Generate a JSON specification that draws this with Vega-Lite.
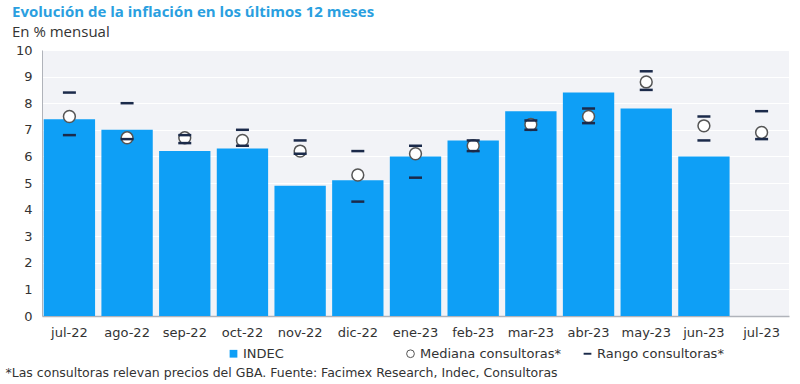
{
  "$schema": "https://vega.github.io/schema/vega-lite/v6.json",
  "width": 747,
  "height": 266,
  "padding": {"left": 5, "top": 5, "right": 5, "bottom": 2},
  "background": "white",
  "title": {
    "text": "Evolución de la inflación en los últimos 12 meses",
    "subtitle": "En % mensual",
    "anchor": "start",
    "frame": "group",
    "dx": -30,
    "font": "Open Sans",
    "fontSize": 15,
    "fontWeight": "bold",
    "color": "#2A9FE0",
    "subtitleFont": "Open Sans",
    "subtitleFontSize": 15,
    "subtitleColor": "#333333",
    "subtitlePadding": 5,
    "offset": 4
  },
  "config": {
    "view": {"fill": "#F2F3F7", "stroke": null},
    "font": "DejaVu Sans"
  },
  "data": {
    "values": [
      {"mes": "jul-22", "indec": 7.4, "mediana": 7.5, "min": 6.8, "max": 8.4},
      {"mes": "ago-22", "indec": 7.0, "mediana": 6.7, "min": 6.65, "max": 8.0},
      {"mes": "sep-22", "indec": 6.2, "mediana": 6.7, "min": 6.5, "max": 6.8},
      {"mes": "oct-22", "indec": 6.3, "mediana": 6.6, "min": 6.4, "max": 7.0},
      {"mes": "nov-22", "indec": 4.9, "mediana": 6.2, "min": 6.1, "max": 6.6},
      {"mes": "dic-22", "indec": 5.1, "mediana": 5.3, "min": 4.3, "max": 6.2},
      {"mes": "ene-23", "indec": 6.0, "mediana": 6.1, "min": 5.2, "max": 6.4},
      {"mes": "feb-23", "indec": 6.6, "mediana": 6.4, "min": 6.2, "max": 6.6},
      {"mes": "mar-23", "indec": 7.7, "mediana": 7.2, "min": 7.0, "max": 7.35},
      {"mes": "abr-23", "indec": 8.4, "mediana": 7.5, "min": 7.25, "max": 7.8},
      {"mes": "may-23", "indec": 7.8, "mediana": 8.8, "min": 8.5, "max": 9.2},
      {"mes": "jun-23", "indec": 6.0, "mediana": 7.15, "min": 6.6, "max": 7.5},
      {"mes": "jul-23", "indec": null, "mediana": 6.9, "min": 6.65, "max": 7.7}
    ]
  },
  "encoding": {
    "x": {
      "field": "mes",
      "type": "nominal",
      "sort": null,
      "scale": {"paddingInner": 0.11, "paddingOuter": 0.03},
      "axis": {
        "title": "*Las consultoras relevan precios del GBA. Fuente: Facimex Research, Indec, Consultoras",
        "titleAnchor": "start",
        "titleX": -37,
        "titleFont": "DejaVu Sans",
        "titleFontSize": 12.5,
        "titleFontWeight": "normal",
        "titleColor": "#333333",
        "titlePadding": 27,
        "labelAngle": 0,
        "labelFontSize": 13,
        "labelColor": "#333333",
        "labelPadding": 10,
        "ticks": false,
        "domainColor": "#B0B3BA",
        "domainWidth": 1.5
      }
    }
  },
  "layer": [
    {
      "mark": {"type": "bar", "color": "#0E9FF6"},
      "encoding": {
        "y": {
          "field": "indec",
          "type": "quantitative",
          "scale": {"domain": [0, 10], "nice": false},
          "axis": {
            "title": null,
            "tickCount": 10,
            "tickMinStep": 1,
            "labelOverlap": false,
            "labelFontSize": 13,
            "labelColor": "#333333",
            "labelPadding": 10,
            "ticks": false,
            "domainColor": "#B0B3BA",
            "gridColor": "#FFFFFF",
            "gridWidth": 1,
            "minExtent": 37,
            "maxExtent": 37
          }
        },
        "color": {
          "datum": "INDEC",
          "type": "nominal",
          "scale": {
            "domain": ["INDEC", "Mediana consultoras*", "Rango consultoras*"],
            "range": ["#0E9FF6", "#FFFFFF", "#1B2A4A"]
          },
          "legend": {
            "title": null,
            "orient": "none",
            "direction": "horizontal",
            "columns": 3,
            "gridAlign": "all",
            "legendX": 185,
            "legendY": 297,
            "columnPadding": 20,
            "labelFont": "DejaVu Sans",
            "labelFontSize": 13,
            "labelColor": "#333333",
            "labelOffset": 3,
            "symbolSize": 60,
            "encode": {
              "symbols": {
                "update": {
                  "shape": {"signal": "datum.value === 'INDEC' ? 'square' : datum.value === 'Rango consultoras*' ? 'M-1,-0.25H1V0.25H-1Z' : 'circle'"},
                  "stroke": {"signal": "datum.value === 'Mediana consultoras*' ? '#555555' : 'transparent'"},
                  "strokeWidth": {"value": 1},
                  "opacity": {"value": 1}
                }
              }
            }
          }
        }
      }
    },
    {
      "mark": {"type": "point", "shape": "circle", "filled": true, "fill": "#FFFFFF", "stroke": "#555555", "strokeWidth": 1.5, "size": 140, "opacity": 1},
      "encoding": {"y": {"field": "mediana", "type": "quantitative"}}
    },
    {
      "mark": {"type": "tick", "orient": "horizontal", "color": "#1B2A4A", "size": 13, "thickness": 2.5, "opacity": 1},
      "encoding": {"y": {"field": "min", "type": "quantitative"}}
    },
    {
      "mark": {"type": "tick", "orient": "horizontal", "color": "#1B2A4A", "size": 13, "thickness": 2.5, "opacity": 1},
      "encoding": {"y": {"field": "max", "type": "quantitative"}}
    }
  ]
}
